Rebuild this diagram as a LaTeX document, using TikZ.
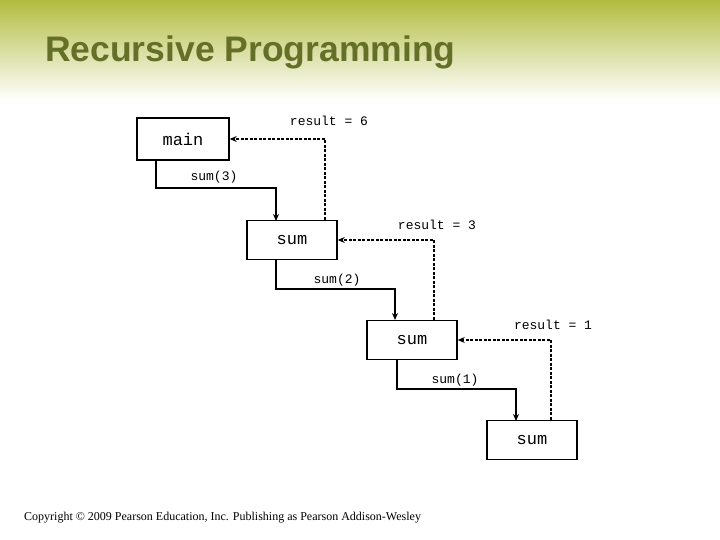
\documentclass[tikz,border=0pt]{standalone}
\usepackage{fontspec}
\setmainfont{Liberation Serif}
\setsansfont{Liberation Sans}
\setmonofont{Liberation Mono}
\usepackage{xcolor}
\usetikzlibrary{arrows.meta, positioning}
\definecolor{headgreen}{RGB}{178,188,64}
\definecolor{titlegreen}{RGB}{100,112,40}

\begin{document}
\begin{tikzpicture}[
    x=1pt, y=-1pt,
    frame/.style={
        rectangle,
        draw=black,
        line width=1.5pt,
        minimum width=90pt,
        minimum height=39pt,
        font=\ttfamily\fontsize{17}{17}\selectfont
    },
    call/.style={line width=1.6pt, -{Stealth[length=7pt,width=6pt]}},
    ret/.style={line width=1.6pt, dash pattern=on 3pt off 1.5pt, -{Stealth[length=7pt,width=6pt]}},
    lbl/.style={font=\ttfamily\fontsize{13}{13}\selectfont}
]
\useasboundingbox (0,0) rectangle (720,540);
\shade[top color=headgreen, bottom color=white] (0,0) rectangle (720,100);

\node[anchor=west, text=titlegreen, inner sep=0pt, font=\sffamily\bfseries\fontsize{35.5}{36}\selectfont] (title) at (45,52) {Recursive Programming};

\node[frame, minimum width=92pt, minimum height=42pt] (main) at (183,139) {main};
\node[frame] (sumA) at (292,240) {sum};
\node[frame] (sumB) at (412,340) {sum};
\node[frame] (sumC) at (532,440) {sum};

% calls
\draw[call] (main.south west) ++(20,0) |- (276,188) -- (276,221);
\draw[call] (sumA.south west) ++(30,0) |- (395,289) -- (395,320);
\draw[call] (sumB.south west) ++(31,0) |- (516,389) -- (516,421);

% returns
\draw[ret] (sumA.north east) ++(-13,0) |- (main.east);
\draw[ret] (sumB.north east) ++(-24,0) |- (sumA.east);
\draw[ret] (sumC.north east) ++(-27,0) |- (sumB.east);

\node[lbl] (c3) at (214,177) {sum(3)};
\node[lbl] (c2) at (337,280) {sum(2)};
\node[lbl] (c1) at (455,380) {sum(1)};
\node[lbl] (r6) at (329,121) {result = 6};
\node[lbl] (r3) at (437,225) {result = 3};
\node[lbl] (r1) at (553,325) {result = 1};

\node[anchor=west, inner sep=0pt, font=\fontsize{12}{12}\selectfont] (copy) at (24,518) {Copyright © 2009 Pearson Education, Inc. Publishing as Pearson Addison-Wesley};
\end{tikzpicture}
\end{document}
